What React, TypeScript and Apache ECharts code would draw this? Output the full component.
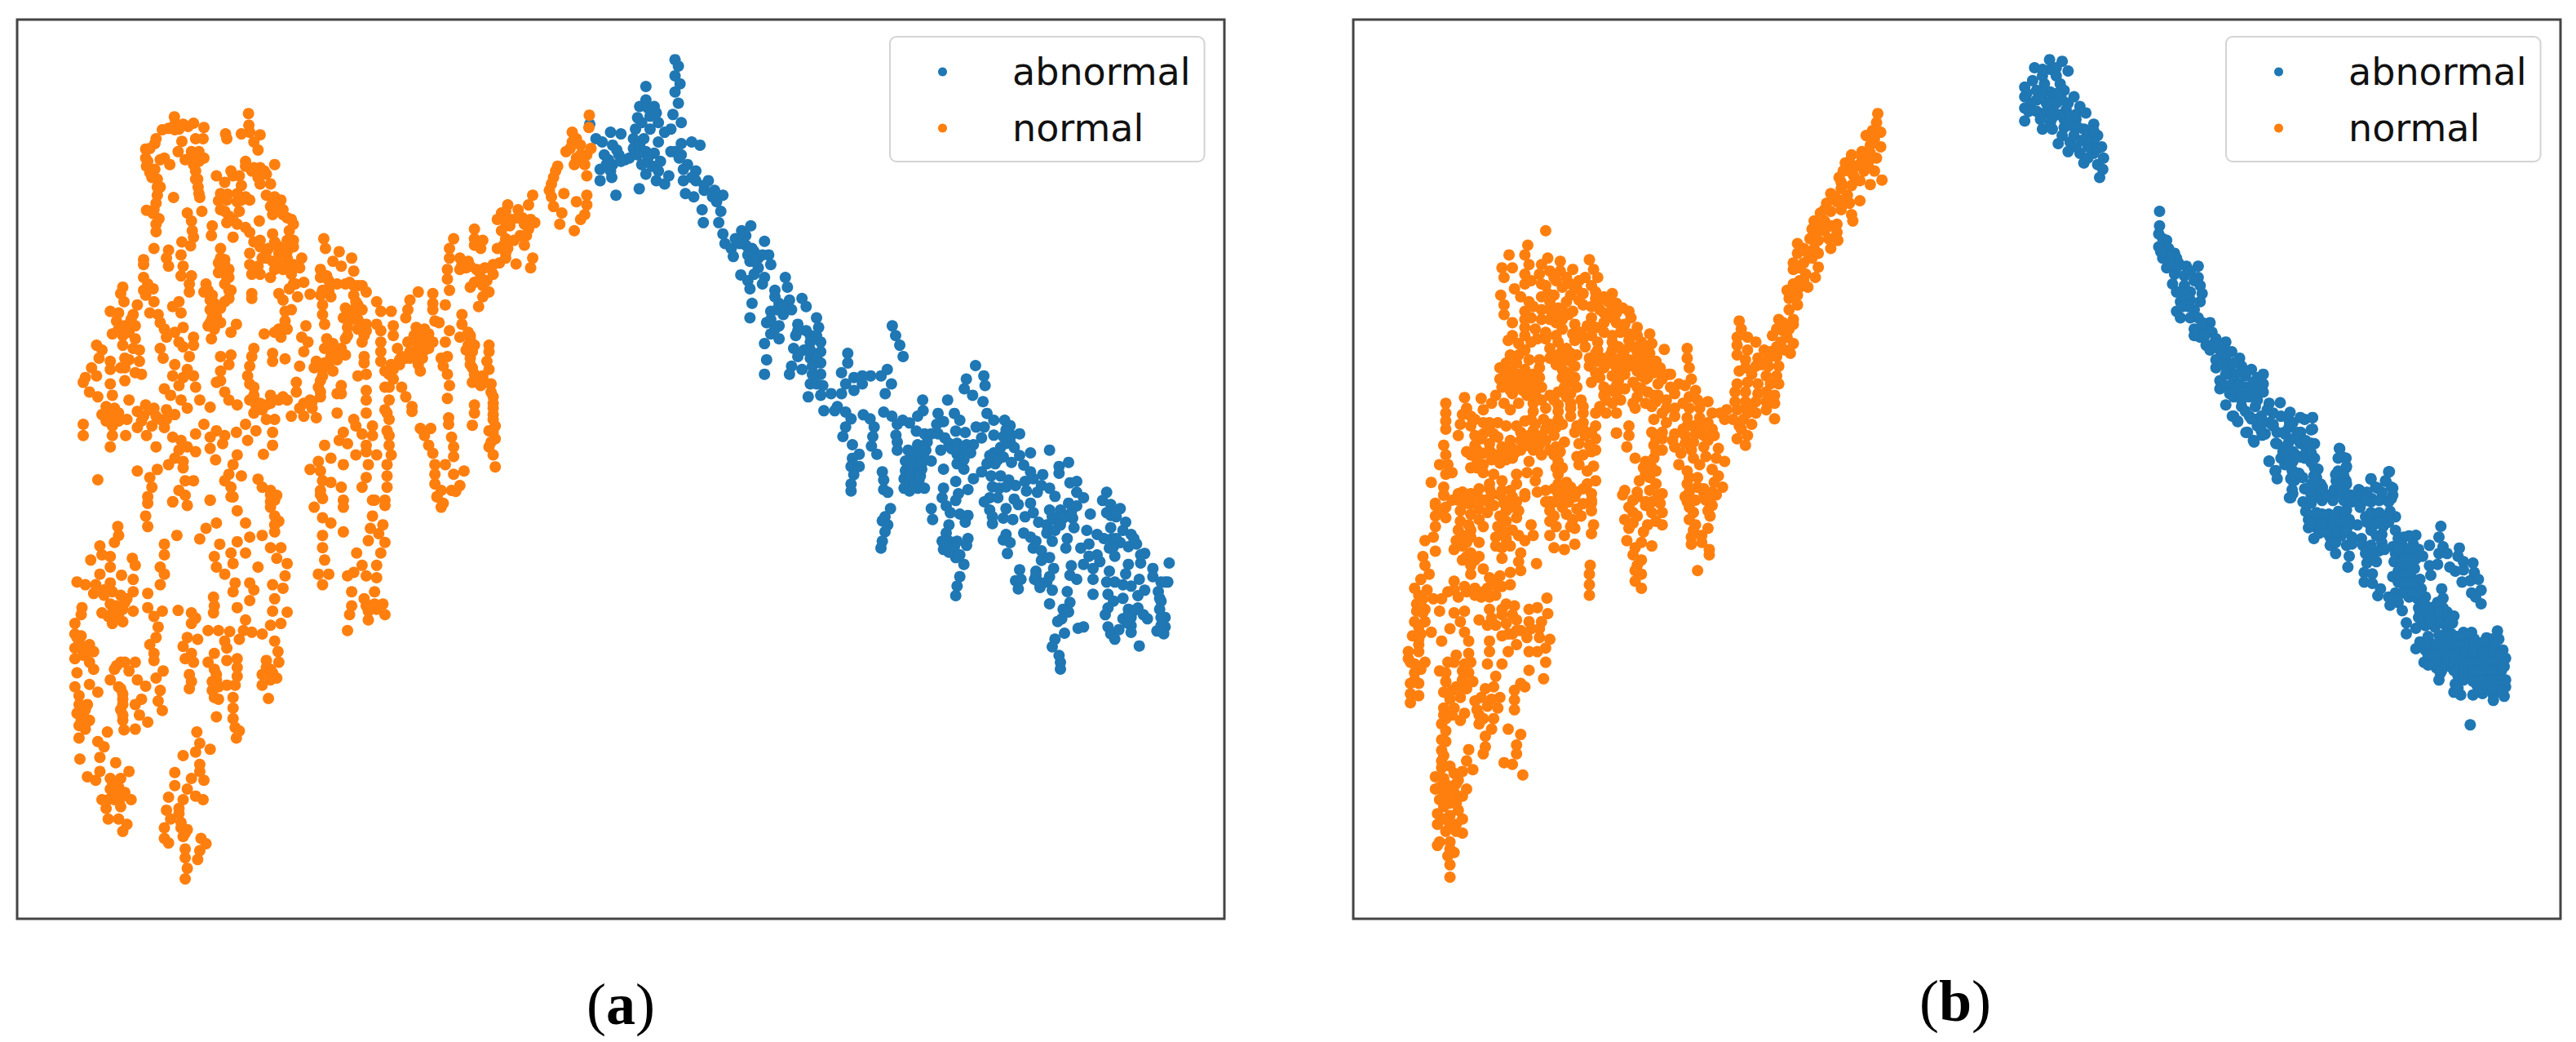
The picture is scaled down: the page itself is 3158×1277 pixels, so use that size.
import React, { useEffect, useRef } from "react";
import * as echarts from "echarts";

const normalA_upper = [419,362,390,402,405,398,420,402,420,385,440,385,465,382,490,395,452,392,430,400,375,430,372,445,350,462,350,490,352,515,360,535,372,525,378,555,385,580,378,605,375,630,352,652,368,662,382,678,375,695,375,718,395,490,385,495,408,510,437,438,470,430,488,430,428,470,478,470,460,490,445,495,490,490,465,510,470,530,475,555,476,580,480,612,417,612,485,655,597,352,598,388,580,415,600,410,625,418,610,440,620,465,542,415,545,430,660,510,590,500,605,530,625,520,640,540,620,550,555,530,520,545,540,565,575,545,580,575,570,600,600,620,650,570,625,570,547,602,525,622,580,620,530,650,550,670,575,655,545,690,570,695,590,705,600,720,560,735,640,605,660,610,675,620,650,640,655,665,680,650,690,675,705,695,695,715,623,685,510,700,508,730,450,660,460,685,462,715,465,735,610,750,625,765,655,725,660,750,690,745,705,745,640,780,670,785,600,785,690,780,725,800,720,830,690,800,655,810,630,800,600,820,620,825,605,850,650,860,680,835,700,850,705,880,370,770,345,805,345,820,405,775,400,800,405,825,437,750,458,762,435,790,530,770,440,825,460,855,435,855,455,880,455,905,525,815,540,820,545,840,530,830,550,860,540,880,555,900,550,925,
295,890,290,910,298,935,345,860,355,880,368,895,350,915,370,935,330,945,320,975,360,970,380,975,385,1000,395,1020,265,965,285,970,280,995,300,1010,270,1035,295,1040,295,1070,325,1010,325,1050,335,1085,335,1120,310,1115,300,1140,325,1155,340,1160,430,935,415,950,435,970,440,1015,420,1030,400,1045,430,1060,440,1075,465,1045,465,1070,232,1070,245,1085,238,1110,265,1120,220,1140,232,1165,205,1170,200,1185,215,1215,235,1230,265,1145,290,1140,385,1080,392,1110,420,1130,415,1165,455,1105,450,1145,440,1170,465,1165,430,1195,265,1190,300,1180,270,1225,310,1240,255,1260,275,1265,245,1285,265,1300,285,1305,305,1300,270,1320,330,1275,350,1255,345,1290,370,1265,400,1270,385,1300,365,1320,395,1325,330,1325,352,1350,200,1315,200,1350,270,1350,302,1350,265,1385,375,1385,420,1285,395,1205,410,1225,435,1240,450,1265,470,1200,480,1240,505,1262,490,1315,470,1345,415,1355,435,1365,505,1355,520,1335,540,1350,568,1340,535,1375,595,1365,505,1390,450,1385,430,1395,470,1400,420,1420,405,1440,440,1430,518,1425,570,1410,560,1440,330,1460,378,1455,235,1487,360,1480,365,1510,440,1450,445,1490,465,1490,430,1520,445,1535,415,1555,355,1560,505,1550,550,1470,580,1475,540,1490,555,1510,560,1540,620,1485,630,1510,650,1520,665,1535,650,1555,
495,880,490,905,505,930,515,960,510,985,500,1010,515,1020,530,955,540,935,550,900,530,1000,568,1005,555,1030,508,1050,605,910,605,925,670,910,710,880,730,875,695,895,680,930,685,965,715,920,700,960,685,995,670,1020,690,1020,635,1035,660,1030,675,1045,735,1010,725,1045,740,1060,730,1090,720,1135,610,1080,605,1105,600,1135,595,1165,600,1190,610,1200,655,1095,655,1120,685,1112,555,1100,530,1105,550,1130,530,1150,520,1185,540,1215,550,1240,570,1255,530,1180,610,1225,615,1255,610,1280,630,1270,650,1225,650,1250,670,1240,690,1240,712,1185,712,1215,640,1300,660,1300,590,1315,615,1335,655,1340,655,1380,633,1408,700,1290,730,1250,745,1240,730,1290,760,1295,750,1265,
778,740,782,770,815,780,845,800,800,810,820,825,770,835,785,855,850,840,745,912,830,880,850,885,870,885,790,895,770,915,880,905,795,920,850,915,775,945,775,975,780,1005,830,955,850,960,870,960,905,935,915,965,825,985,860,990,880,1005,835,1015,860,1020,875,1040,870,1060,940,965,945,1010,905,1005,915,1025,915,1060,915,1090,945,1040,955,1080,785,1050,830,1050,820,1080,800,1090,780,1080,830,1100,810,1115,780,1125,760,1120,755,1140,775,1165,800,1150,765,1200,820,1195,810,1220,770,1230,750,1245,810,1280,875,1105,875,1125,860,1165,880,1160,880,1210,880,1240,880,1280,850,1300,855,1320,825,1340,815,1365,835,1375,870,1345,895,1320,895,1350,880,1380,855,1410,880,1400,905,1410,935,1380,940,1410,780,1380,795,1420,765,1430,745,1455,770,1460,775,1490,825,1440,885,1440,880,1480,870,1510,930,1440,930,1475,930,1510,795,1495,770,1520,775,1545,820,1510,825,1550,900,1550,925,1550,940,1130,925,1150,945,1175,960,1130,975,1110,985,1090,965,1105,925,1200,935,1240,925,1270,935,1300,930,1335,935,1350,965,1200,975,1230,990,1260,990,1275,
1005,905,985,930,980,960,975,985,1040,910,1040,940,1040,960,1045,995,1000,1015,1020,1020,995,1040,1030,1035,980,1060,1010,1060,1000,1090,1040,1060,1030,1080,985,1110,1015,1110,1010,1150,1055,1000,1080,1025,1070,1060,1110,975,1110,1005,1125,1030,1105,1045,1130,1050,1140,1070,1120,1085,1130,1110,1135,1140,1060,1110,1075,1105,1065,1135,1075,1160,1080,1195,1075,1235,1175,1070,1175,1090,1170,1120,1175,1145,1160,1165,1135,1185,1155,1195,1180,1215,1140,1255,1140,1280,1135,1318,1185,1250,1185,1285,1190,1320,1175,1335,1190,1360,1175,1385,1185,1410,1190,1447,1078,1295,1078,1315,1010,1328,1035,1328,1020,1350,1030,1380,1040,1405,1085,1355,1090,1385,1090,1415,1045,1440,1070,1440,1115,1460,1045,1470,1090,1470,1045,1500,1105,1505,1060,1520,1085,1520,1050,1540,1065,1560,
1090,740,1080,770,1080,800,1075,835,1075,865,1080,900,1070,945,1140,710,1140,740,1160,745,1140,760,1155,770,1105,800,1125,810,1105,835,1130,825,1145,835,1180,830,1200,815,1215,800,1240,818,1155,860,1185,850,1130,890,1160,885,1175,905,1160,920,1150,950,1220,635,1205,660,1245,650,1280,605,1270,635,1195,680,1215,690,1255,675,1285,690,1205,715,1215,740,1270,710,1250,730,1220,770,1280,800,1275,830,1260,760,1195,770,1340,515,1330,550,1320,590,1330,640,1350,660,1345,695,1355,600,1385,625,1410,605,1410,635,1380,715,1395,680,1405,665,1375,410,1385,430,1360,470,1385,490,1405,510,1420,460,1410,545,1415,395,1416,357,
360,460,355,500,365,550,378,580,370,650,460,470,478,500,470,555,478,600,590,515,610,520,635,530,560,545,530,600,545,620,570,625,590,610,540,655,560,680,655,620,670,640,680,665,700,680,625,745,645,770,665,760,685,765,705,765,640,800,665,810,690,820,705,820,625,850,660,835,530,800,540,805,550,835,525,845,545,860,500,900,510,915,515,940,505,960,520,980,505,1000,770,860,790,870,810,880,840,875,860,885,775,900,790,905,855,935,860,945,870,1005,835,965,845,990,835,1040,870,1020,880,1025,800,1065,815,1095,795,1105,790,1135,775,1145,770,1180,770,1215,820,1220,915,1120,935,1160,945,1145,960,1115,935,1200,930,1280,1010,1040,1020,1060,1020,1085,1000,1110,1005,1130,1000,1060,1130,1040,1125,1070,1135,1090,1130,1130,1140,1160,1150,1180,1165,1185,1180,1190,1185,1230,1185,1265,1185,1300,1185,1340,1180,1370,1215,655,1230,680,1245,675,1225,700,1260,695,1275,680,1265,730,1235,745,1210,760,1215,785,1185,820,1165,830,1120,830,1110,820,1150,840,1170,870,1140,875,1335,530,1325,570,1325,610,1375,440,1370,460,1395,480,1380,510,1395,450,1410,480,265,1290,285,1280,255,1305,275,1290,340,1305,360,1270,375,1290,400,1300,300,1110,320,1080,285,1020,310,1030,345,900,315,990,290,1010,600,1240,625,1250,640,1255,680,1230,720,1265];

const normalA_lower = [355,20,350,75,355,105,415,35,450,45,505,30,555,20,570,60,590,95,520,95,495,110,480,140,425,130,650,15,650,50,670,90,660,120,770,15,755,50,775,80,795,95,825,50,825,120,895,30,925,45,895,75,920,100,890,110,885,145,925,150,283,105,285,130,275,150,240,160,245,185,218,200,265,190,265,220,318,195,325,215,240,240,292,243,320,255,185,262,205,270,230,270,265,265,225,295,250,300,290,300,320,290,355,295,265,325,300,320,245,350,270,350,295,340,320,345,270,380,295,375,395,155,395,185,385,220,395,240,385,270,355,335,370,360,380,390,375,420,390,345,428,343,360,440,370,465,370,485,197,335,195,355,180,380,180,410,190,430,180,450,215,440,200,470,180,480,225,460,215,490,225,510,185,520,180,560,190,585,215,553,235,575,300,490,325,490,275,510,265,540,310,515,330,540,290,565,295,595,290,625,295,655,350,558,340,595,325,610,335,640,325,680,355,660,298,682,392,515,375,535,385,570,380,600,390,627,190,610,210,610,185,635,200,640,215,655,190,670,205,680,190,705,258,688,235,715,250,730,240,760,192,765,278,775,240,800,210,815,310,800,230,825,265,820,290,820,285,845,265,850,300,860,245,880,275,880,315,880,290,900,255,905,260,935,285,935,305,950,295,970,473,688,480,720,505,737,470,745,440,755,480,780,480,800,420,803,460,820,490,825,420,840,450,850,405,873,440,880,470,870,488,880,400,910,430,905,410,935,435,945,395,960,450,965,440,985,395,990,405,1003,483,990,495,1005,445,1020,480,1025,445,1045,475,1050,450,1075,445,1105,460,350,460,380,470,365,450,420,475,425,440,445,460,465,445,480,465,490,455,525,460,545,455,565,513,305,515,330,513,350,500,400,525,400,552,403,540,430,545,450,515,465,500,490,545,485,520,525,510,545,545,555,510,570,525,595,565,555,570,480,570,505,570,530,560,590,560,620,520,645,560,650,565,675,575,685,568,705,528,155,515,190,520,220,540,240,570,148,555,180,600,135,590,180,560,210,565,265,560,290,570,335,590,370,585,400,575,425,605,405,630,410,620,220,600,265,610,285,600,315,630,130,650,165,675,165,665,195,690,210,685,245,680,280,655,270,660,310,655,345,690,348,650,385,675,380,660,430,668,460,670,490,640,485,650,510,630,525,665,535,630,555,645,593,775,130,775,165,780,200,765,240,790,240,775,270,857,180,870,215,850,235,835,245,880,245,845,290,845,330,840,355,835,400,910,125,915,180,905,215,905,250,900,290,875,310,900,325,920,325,885,345,885,370,925,355,1050,20,1060,50,1095,5,
660,75,660,100,660,30,250,285,270,290,305,310,280,330,260,360,285,360,185,420,195,415,195,450,210,460,290,490,280,500,285,560,295,580,295,610,295,640,195,625,205,625,195,655,205,665,270,830,280,830,275,865,260,880,290,875,430,920,435,960,445,975,515,510,520,540,525,560,515,590,640,505,655,520,650,540,890,330,905,340,880,330];

const abnormalA_upper = [45,385,60,430,75,440,95,410,120,415,100,450,80,480,115,480,100,510,130,495,70,525,95,530,70,560,98,550,108,605,164,585,250,185,258,205,250,235,262,260,250,285,258,320,245,355,265,380,240,400,180,268,180,310,165,330,200,330,160,365,190,360,210,380,155,400,225,410,175,430,210,440,150,460,180,470,200,475,240,470,265,445,290,440,310,450,140,490,170,510,195,515,180,540,205,560,225,570,235,545,210,530,265,480,280,510,300,530,270,560,300,560,330,560,275,600,295,610,320,590,345,590,365,605,350,625,360,655,315,650,318,690,355,690,365,725,370,755,432,700,410,715,395,740,420,760,385,770,390,795,465,748,440,780,475,790,450,800,430,810,480,820,450,830,408,852,425,870,465,860,430,895,435,940,515,860,520,890,490,900,460,880,500,940,525,930,555,925,565,950,480,965,510,975,430,985,470,1000,500,1010,545,1005,590,985,595,1015,565,1025,480,1035,465,1065,500,1050,540,1040,600,1060,575,1060,535,1080,560,1085,600,1090,545,1105,575,1110,600,1125,470,1115,465,1160,530,1135,555,1145,600,1160,525,1160,575,1190,605,1195,600,1225,570,1230,772,1010,780,1040,790,1070,798,1105,665,1095,665,1125,650,1155,680,1170,660,1190,625,1220,720,1165,700,1165,760,1145,745,1165,770,1190,755,1220,640,1260,950,1175,945,1205,965,1225,972,1133,992,1165,995,1195,990,1245,845,1240,905,1240,
110,465,90,495,120,500,85,510,150,430,165,450,190,400,170,380,185,335,195,345,205,350,160,480,185,490,215,500,250,470,260,490,270,525,290,550,320,575,340,610,350,605,420,730,405,755,435,770,425,790,460,790,440,810,440,850,490,920,495,960,510,950,530,960,480,990,490,1020,545,1025,575,1040,590,1040,575,1085,590,1110,580,1135,580,1160,590,1190,700,1190,680,1210,650,1220];

const abnormalA_lower = [30,10,70,10,110,15,130,40,175,25,200,40,215,70,110,70,100,105,135,135,210,105,205,140,225,170,160,170,135,185,130,215,160,215,140,245,130,280,130,305,245,235,250,265,250,300,265,310,250,15,280,30,300,60,320,45,295,100,300,125,345,55,370,85,400,95,425,95,375,30,395,10,300,155,340,155,375,135,410,125,405,155,330,195,360,190,400,185,425,195,330,230,360,225,390,225,325,260,355,260,380,265,325,295,345,305,375,295,400,295,450,20,470,50,445,60,450,95,475,110,460,155,510,20,530,45,515,85,550,90,490,130,520,130,555,135,580,135,520,170,550,170,570,165,520,205,545,225,470,225,580,260,590,70,620,70,610,110,655,100,630,20,655,45,695,45,715,65,750,95,690,105,715,125,680,145,655,165,730,145,750,175,630,205,610,235,660,205,690,180,720,200,645,250,680,250,710,265,735,285,790,165,860,155,835,245,765,210,790,235,770,270,800,260,775,305,830,285,860,295,880,325,815,310,650,290,675,295,640,330,620,345,640,375,670,330,700,290,730,335,745,355,700,370,650,400,690,405,725,410,650,425,790,350,770,400,800,385,820,420,860,375,900,375,930,350,960,360,985,330,960,310,935,275,960,270,895,215,930,200,895,240,880,410,910,405,945,405,950,440,850,430,1010,390,515,270,515,340,525,315,560,300,470,295,465,330,480,360,425,370,430,410,495,385,530,390,560,395,550,420,275,370,255,400,245,415,265,430,255,455,245,490,240,515,490,430,480,460,465,490,490,490,520,490,560,480,470,520,500,525,555,505,515,550,545,575,530,620,520,655,515,690,700,465,690,485,715,495,705,535,765,460,790,475,810,490,800,515,830,525,870,490,850,460,880,450,925,480,920,515,997,450,750,595,735,635,755,630,745,665,860,550,830,560,875,590,810,600,860,620,805,630,825,660,850,640,870,670,860,720,1070,310,1055,340,1085,355,1120,370,1070,385,1105,400,1140,420,1085,440,1130,450,1035,465,1060,480,1090,480,1160,465,1120,495,1150,510,1080,515,1100,545,1180,500,1210,535,1195,570,1150,575,1240,590,1300,570,975,515,1005,500,1035,540,1005,545,1045,565,985,575,940,580,935,615,1020,590,960,630,1020,630,925,675,1020,685,1080,600,1070,640,1100,640,1140,610,1190,630,1075,685,1130,650,1160,655,1210,670,1240,620,1295,640,1270,640,1260,675,1270,710,1185,690,1095,710,1075,735,1065,760,1130,700,1150,740,1185,735,1130,775,1160,770,1220,775,1265,740,1285,770,1285,805,1255,820,1280,830,1160,800,1160,825,1075,805,1085,830,1115,815,1100,850,1190,875,935,715,910,740,930,750,905,775,890,785,915,828,965,810,985,805,880,850,870,878,895,910,900,935,900,960,
345,215,345,245,345,280,360,290,385,250,390,205,370,165,350,165,530,190,545,190,500,150,520,150,540,150,640,175,670,190,700,130,720,100,700,80,500,505,490,530,475,500,510,510,530,540,820,640,810,615,1150,760,1145,790,1170,745,1205,760,1270,800,1270,770,1265,700,1285,640,1090,385,1085,395,1100,380,1105,480,1095,510,1170,480,1195,540,920,395,940,385,870,400,900,430];

const normalB_upper = [1278,352,1275,380,1265,405,1285,410,1250,420,1270,430,1285,455,1260,450,1215,480,1240,490,1200,505,1225,515,1255,505,1275,490,1195,530,1220,545,1245,530,1270,530,1185,550,1288,558,1260,572,1215,575,1190,585,1165,600,1205,605,1235,622,1180,625,1155,630,1210,630,1140,660,1165,655,1190,650,1215,665,1218,685,1125,685,1150,685,1180,695,1120,710,1150,715,1180,720,1135,745,1165,770,1115,740,1182,745,1085,755,1085,785,1110,785,1135,785,1075,815,1100,815,1135,828,1075,835,1105,850,1128,860,1075,880,1060,900,1090,890,1110,890,1065,925,1085,915,1085,945,1065,960,1040,990,1075,990,1065,1020,1035,1020,1025,1040,1060,1045,1075,1065,1035,1075,1068,1095,945,995,950,1020,940,1045,965,1045,985,1060,1005,1085,940,1070,965,1085,940,1100,1035,1105,990,1110,960,1115,1015,1110,1040,1135,1000,1130,945,1150,975,1160,1010,1165,1035,1165,1040,1190,940,1190,965,1185,990,1190,935,1215,960,1215,990,1220,1030,1225,1030,1250,1030,1298,935,1245,960,1245,985,1245,915,1270,940,1270,965,1280,985,1280,930,1300,955,1300,975,1315,950,1330,965,1350,940,1360,960,1380,820,1080,820,1110,825,1140,765,1083,830,1175,815,1195,840,1210,845,1240,825,1230,870,1245,850,1265,880,1280,825,1265,800,1190,780,1160,755,1155,790,1220,770,1240,750,1190,720,1175,740,1225,700,1200,700,1230,760,1280,790,1290,820,1295,850,1295,735,1260,695,1265,740,1300,770,1310,820,1320,870,1310,900,1280,910,1300,885,1350,735,1340,760,1340,790,1345,815,1350,840,1345,860,1350,815,1375,790,1385,830,1395,860,1385,895,1390,890,1420,910,1430,740,1380,680,1320,680,1350,650,1342,675,1385,695,1420,720,1430,740,1420,715,1450,745,1460,730,1480,800,1440,850,1440,820,1460,845,1480,895,1475,885,1495,905,1510,880,1525,860,1515,820,1500,825,1525,845,1510,875,1550,820,1555,705,1490,745,1500,670,1520,700,1525,730,1520,760,1530,690,1550,720,1555,755,1560,
480,715,437,760,392,790,430,790,485,800,515,810,585,805,375,830,400,830,440,820,470,820,430,850,465,850,490,840,515,840,545,835,595,835,380,860,505,870,540,880,575,860,605,860,480,885,520,890,555,895,590,885,405,895,372,915,380,945,380,975,485,910,600,905,640,910,490,935,530,935,510,955,440,935,430,965,470,960,500,970,570,945,545,965,605,940,630,935,650,940,590,985,680,965,620,970,650,970,430,990,400,1000,490,990,520,990,620,1000,650,1000,685,985,550,1005,580,1010,520,1020,455,1020,545,1035,590,1040,620,1030,660,1030,700,1015,730,1035,400,1040,430,1040,460,1050,390,1055,510,1060,550,1055,640,1060,680,1055,710,1060,735,1065,490,1080,520,1085,575,1075,605,1085,640,1085,670,1085,700,1090,730,1095,395,1100,430,1085,410,1125,440,1115,490,1110,525,1115,555,1100,585,1110,615,1110,650,1115,680,1115,715,1115,745,1120,370,1140,400,1150,430,1145,465,1140,520,1145,550,1135,585,1135,620,1140,650,1140,680,1135,720,1145,755,1140,370,1175,395,1175,430,1175,465,1170,520,1170,550,1170,610,1170,640,1165,670,1160,710,1165,740,1155,775,1160,375,1200,410,1195,440,1200,470,1200,525,1200,555,1200,620,1200,650,1195,360,1225,400,1220,435,1225,460,1235,490,1225,530,1230,565,1240,620,1225,650,1220,290,1265,325,1235,240,1250,285,1232,350,1250,380,1250,415,1250,450,1250,510,1255,640,1250,610,1260,240,1280,240,1305,240,1330,280,1285,300,1290,330,1270,395,1270,450,1275,480,1265,510,1275,540,1265,570,1280,600,1280,625,1280,650,1280,275,1315,300,1320,330,1310,365,1310,385,1320,475,1300,445,1300,510,1300,540,1290,570,1310,600,1320,650,1342,270,1350,330,1345,355,1345,420,1340,450,1335,480,1330,505,1325,550,1340,575,1350,600,1360,235,1380,310,1380,345,1375,375,1385,400,1390,430,1365,455,1365,480,1365,560,1375,585,1380,600,1395,505,1385,240,1410,300,1410,330,1405,360,1410,390,1410,420,1395,450,1395,500,1410,570,1410,555,1415,225,1440,245,1440,300,1450,330,1440,370,1435,400,1420,440,1430,510,1430,560,1440,595,1445,580,1460,240,1470,255,1465,330,1465,355,1470,205,1495,460,1465,510,1470,530,1495,455,1490,235,1510,345,1500,375,1490,410,1470,435,1465,280,1525,320,1515,375,1520,410,1500,235,1535,270,1550,320,1545,350,1530,400,1540,430,1530,480,1520,510,1500,540,1510,580,1500,600,1490,460,1525,510,1530,540,1540,590,1530,215,1560,290,1560,345,1560,380,1560,490,1555,520,1560,590,1560,
1240,470,1260,475,1210,500,1235,510,1210,530,1235,560,1190,565,1175,610,1195,620,1150,650,1130,700,1165,700,1130,720,1160,740,1100,770,1125,770,1090,830,1120,800,1090,870,1075,905,1100,870,1075,1005,1050,1000,1050,1025,1045,1060,1055,1085,1020,1090,1015,1135,985,1135,960,1140,1020,1190,1010,1215,1010,1245,1010,1270,960,1265,945,1320,975,1260,430,880,445,870,500,860,530,860,560,870,470,880,420,920,470,920,500,915,540,915,570,910,600,925,620,920,450,950,490,960,520,960,560,930,590,950,610,960,640,955,665,955,445,985,470,990,505,1000,535,975,640,985,670,1005,600,1015,430,1015,480,1030,505,1040,565,1030,640,1040,680,1035,700,1040,415,1065,445,1060,480,1050,530,1080,570,1050,605,1060,655,1075,690,1075,720,1085,510,1100,540,1095,600,1095,635,1100,665,1100,700,1105,385,1125,415,1100,465,1115,505,1130,540,1120,600,1120,635,1125,665,1125,700,1125,730,1130,385,1155,415,1160,450,1160,535,1155,600,1155,660,1150,700,1150,735,1140,760,1175,385,1190,420,1185,455,1185,540,1185,590,1185,655,1180,690,1185,725,1170,395,1210,425,1210,455,1215,510,1215,540,1220,635,1210,670,1205,710,1205,470,1240,500,1240,540,1250,570,1260,625,1240,660,1240,690,1250,720,1250,750,1225,780,1200,810,1250,790,1265,770,1265,745,1245,725,1215,310,1300,345,1330,310,1350,345,1310,410,1320,430,1305,455,1315,490,1315,520,1315,555,1320,590,1340,290,1400,325,1360,365,1355,395,1365,420,1365,440,1350,470,1350,500,1350,525,1370,570,1330,315,1395,345,1395,375,1405,405,1405,435,1380,465,1380,490,1395,515,1400,590,1400,315,1425,350,1425,385,1425,470,1410,520,1450,505,1450,315,1450,760,1360,785,1365,810,1330,835,1320,855,1325,880,1330,835,1370,870,1365,745,1360,760,1395,745,1400,805,1405,835,1420,865,1415,880,1455,720,1470,735,1450,825,1480,270,1530,300,1530,345,1515,395,1520,500,1515,520,1520,555,1525,570,1515,285,1545];

const normalB_lower = [235,15,280,30,310,15,350,15,380,30,430,20,480,35,515,15,550,20,590,30,665,15,700,20,750,15,815,20,860,10,890,15,215,45,240,50,275,60,320,55,355,45,400,50,490,60,520,50,555,55,590,60,680,50,720,45,760,65,825,50,880,45,215,75,240,80,275,90,320,85,370,75,410,80,490,90,545,85,595,100,670,85,700,75,745,90,825,85,875,75,215,105,270,115,300,115,365,105,400,115,445,100,490,130,525,130,550,110,590,125,680,110,715,120,760,100,835,115,870,110,190,145,210,135,265,145,290,150,360,135,385,140,430,145,450,130,500,165,525,170,550,155,675,145,710,150,735,160,830,155,855,150,873,170,873,185,185,190,215,175,260,170,300,180,320,190,375,165,375,195,420,180,415,205,458,210,690,185,710,200,845,230,190,215,200,240,280,200,300,215,330,225,695,230,710,240,695,260,710,280,587,215,585,240,585,270,585,300,180,255,165,280,195,285,210,310,260,260,245,290,230,310,285,275,310,280,270,305,325,305,300,240,345,250,370,245,395,270,420,230,395,235,375,275,170,325,170,345,190,340,225,345,260,350,285,345,345,305,345,340,320,370,350,365,385,325,405,330,440,340,460,335,483,308,485,352,165,375,190,375,205,405,275,375,250,395,285,405,295,430,230,430,360,385,385,380,410,370,440,375,470,375,160,415,180,410,175,440,345,430,375,415,400,410,410,440,435,420,465,420,490,425,390,460,440,460,460,460,480,450,150,460,175,460,155,490,190,490,265,470,295,465,345,460,245,490,300,490,340,495,375,495,480,490,165,520,180,510,225,515,295,520,240,545,280,540,360,530,440,513,475,537,155,550,175,550,155,580,175,585,155,605,265,560,235,575,290,565,335,565,355,560,420,550,405,570,430,560,250,595,275,590,310,600,350,595,370,590,405,597,405,625,235,620,260,620,285,635,315,625,365,620,240,650,275,655,330,650,355,650,320,665,240,685,350,680,230,710,335,700,390,680,420,695,230,740,335,730,410,725,295,738,330,750,410,750,230,770,290,770,380,775,400,780,230,790,305,795,280,800,425,810,260,805,215,815,235,820,215,850,270,825,290,850,235,860,260,860,225,880,280,870,250,890,270,910,220,920,250,925,280,935,220,950,250,950,265,970,280,975,225,1000,250,1000,220,1010,260,1030,245,1040,250,1065,250,1100,
255,30,300,40,335,30,370,15,410,35,500,35,535,35,570,40,690,30,735,35,840,30,865,30,230,60,300,70,340,65,385,60,415,60,500,75,530,70,565,75,690,65,735,65,835,65,870,60,295,100,330,105,385,90,505,105,540,105,690,95,725,100,840,100,380,120,415,130,830,135,855,130,280,130,300,135,320,150,360,160,395,160,280,160,290,190,310,200,695,165,700,215,340,280,360,270,260,285,290,290,310,300,330,290,360,300,375,340,400,355,340,385,375,355,420,400,445,395,465,395,390,410,410,400,185,310,175,300,185,350,175,390,175,425,150,480,165,495,165,540,260,490,285,495,240,520,280,515,305,545,255,570,280,565,325,590,340,615,320,640,255,640,235,640,230,665,240,715,235,755,250,785,225,845,245,840,265,835,240,875,235,900,265,890,235,935,265,950,240,970,250,1020];

const abnormalB_upper = [233,185,265,190,195,210,235,215,280,220,215,235,250,235,190,250,220,260,260,260,170,270,200,280,235,285,270,280,295,300,170,300,200,310,235,315,265,310,310,330,170,335,200,345,240,340,275,340,325,350,170,375,215,400,235,380,270,370,300,370,345,385,240,400,290,390,320,400,355,420,255,445,285,440,315,435,345,440,365,455,280,470,310,475,345,475,370,490,320,505,355,510,368,525,360,550,300,355,210,370,185,320,512,655,512,700,510,725,530,745,510,765,535,770,550,785,520,800,555,800,530,830,560,815,580,825,610,825,550,850,575,855,610,860,545,880,575,885,615,885,555,905,590,905,620,910,565,935,590,930,615,935,555,965,600,960,565,985,610,985,640,1000,600,1020,625,1020,600,1040,645,1030,655,1050,630,1070,680,1060,640,1085,665,1085,685,1090,655,1115,680,1115,715,1110,655,1140,690,1145,720,1135,745,1145,775,1160,665,1180,700,1175,730,1165,760,1170,665,1205,700,1205,735,1200,775,1190,680,1255,700,1230,740,1230,775,1215,700,1290,720,1260,755,1260,790,1250,818,1248,710,1305,740,1290,770,1290,800,1280,843,1278,735,1340,760,1320,790,1310,820,1290,750,1365,780,1345,810,1340,850,1310,880,1300,900,1295,790,1430,810,1375,840,1370,870,1340,900,1330,805,1460,820,1420,850,1400,880,1380,905,1375,850,1430,880,1420,905,1420,850,1460,905,1450,850,1490,875,1480,910,1480,850,1530,880,1515,925,1510,968,1390,985,1420,965,1420,985,1450,965,1460,985,1490,960,1490,1095,1462,1048,1485,1085,1490,1020,1520,1100,1510,1060,1510,960,1530,985,1530,900,1545,1015,1550,1050,1545,1100,1545,930,1540,
215,215,250,210,175,290,215,290,250,290,180,345,220,350,255,355,290,360,225,320,250,320,280,320,240,365,270,395,305,395,265,420,295,420,330,420,345,405,300,455,330,455,355,460,330,490,520,740,515,780,540,795,540,815,555,830,590,840,600,870,565,905,580,915,570,950,585,950,590,985,620,1000,615,1045,625,1045,650,1065,660,1070,670,1100,695,1090,670,1130,700,1125,730,1150,680,1160,715,1155,680,1195,715,1190,750,1185,690,1220,720,1215,755,1210,720,1240,760,1240,730,1275,785,1270,755,1300,770,1335,800,1320,840,1325,830,1345,860,1360,825,1400,860,1415,830,1440];

const abnormalB_lower = [620,330,670,345,700,350,740,340,780,340,820,340,880,330,920,345,960,335,1000,320,680,380,720,385,800,380,830,375,880,365,690,410,720,405,760,410,810,405,840,410,900,400,935,405,970,400,1010,400,690,440,720,440,755,440,800,440,840,430,870,430,930,430,965,435,1010,450,710,480,770,475,810,470,850,475,885,480,920,450,960,465,1040,475,1085,468,1060,470,770,505,830,505,850,500,890,505,920,505,960,495,1000,510,1035,505,1075,500,1135,505,1170,475,1177,435,1185,510,790,535,840,545,900,535,925,540,1010,535,1040,535,1080,530,1110,545,1170,535,1200,535,1245,515,835,585,905,570,940,565,1005,565,1035,565,1065,560,1135,580,1165,575,1210,585,1240,545,1260,565,1295,570,895,605,925,610,1020,600,1050,595,1080,590,1140,615,1230,600,1260,595,1300,605,895,640,925,645,1000,620,1040,625,1070,625,1100,630,1255,640,1285,635,1315,630,945,690,955,665,1010,680,1045,660,1075,660,1105,665,1180,665,1290,680,1325,670,990,725,985,695,1020,715,1060,695,1090,700,1120,695,1185,700,1325,720,1305,695,1035,745,1095,735,1125,730,1155,730,1185,735,1225,765,1050,790,1095,770,1125,765,1155,770,1190,775,1220,790,1050,830,1085,810,1120,800,1155,805,1200,810,1215,830,1260,825,1290,825,1385,820,1085,885,1100,860,1140,865,1180,855,1205,860,1250,855,1285,860,1345,845,1390,850,1120,890,1150,890,1185,890,1245,885,1280,885,1320,880,1355,880,1405,890,1115,935,1150,925,1185,925,1240,920,1275,920,1310,915,1345,915,1380,915,1415,920,1160,955,1210,950,1245,950,1280,950,1315,950,1350,950,1385,950,1410,950,1170,1000,1175,975,1240,985,1275,985,1310,985,1345,985,1380,985,1415,1000,1230,1015,1310,1020,1345,1020,1385,1020,1415,1025,1225,1045,1250,1055,1295,1055,1330,1050,1370,1055,1410,1060,1370,1075,1285,1165,
805,150,815,180,830,215,790,245,820,250,800,280,830,280,985,235,920,260,975,270,1000,295,945,295,875,300,905,310,960,310,725,225,700,200,710,250,735,280,630,230,640,265,630,300,625,330,690,300,720,310,760,320,545,195,570,230,575,260,620,190,660,180,700,130,660,130,610,140,570,130,520,100,460,90,490,125,410,30,430,50,480,40,520,50,560,60,620,50,660,35,705,35,700,80,650,90,
700,395,740,390,765,390,785,395,825,390,920,385,950,385,990,380,700,425,740,425,780,420,820,420,905,420,950,420,985,420,730,460,760,460,790,455,830,455,940,470,1020,480,790,495,950,525,970,520,1020,520,1060,520,1095,520,1045,550,1085,555,1040,610,1060,610,1020,640,1040,650,1060,640,1090,650,1000,700,1040,680,1075,680,1100,685,1165,715,1110,715,1100,750,1140,750,1170,750,1200,750,1110,790,1140,785,1175,790,1205,770,1205,790,1130,840,1170,835,1195,840,1235,840,1275,840,1300,850,1365,850,1120,870,1160,870,1195,875,1225,875,1265,870,1300,870,1335,860,1375,870,1130,910,1165,905,1200,905,1230,900,1260,900,1295,900,1335,900,1370,895,1400,905,1130,945,1170,940,1195,935,1225,935,1260,935,1295,935,1330,935,1365,935,1400,935,1180,965,1225,965,1260,965,1295,965,1330,965,1365,965,1400,965,1260,1000,1295,1005,1330,1000,1365,1000,1395,1000,1240,1030,1325,1035,1365,1035,1400,1040,600,90,640,110,680,120,600,165,640,170,680,165,700,165,625,260,655,240,700,280,740,300,700,320,735,320,785,300,815,305,845,320,865,320,905,340,950,340,985,345,850,345];

const seriesNames = ["abnormal", "normal"];
const seriesColors = ["#1f77b4", "#ff7f0e"];

type Crop = [number, number, number, number];
const convert = (pts: number[], [ox, oy, sx, sy]: Crop) => {
  const out: number[][] = [];
  for (let i = 0; i + 1 < pts.length; i += 2) out.push([ox + pts[i] / sx, oy + pts[i + 1] / sy]);
  return out;
};

const abnormalA = [...convert(abnormalA_upper, [700, 0, 1.96, 2.529]), ...convert(abnormalA_lower, [1000, 500, 3, 3])];
const normalA = [...convert(normalA_upper, [0, 0, 1.96, 2.529]), ...convert(normalA_lower, [0, 600, 1.96, 2.316])];
const abnormalB = [...convert(abnormalB_upper, [2400, 0, 2.069, 2.529]), ...convert(abnormalB_lower, [2600, 500, 3, 3])];
const normalB = [...convert(normalB_upper, [1650, 0, 1.96, 2.529]), ...convert(normalB_lower, [1650, 600, 1.96, 2.316])];

export default function App() {
  const ref = useRef<HTMLDivElement>(null);
  useEffect(() => {
    document.body.style.margin = "0";
    const chart = echarts.init(ref.current!, null, { renderer: "svg" });
    const axisOff = { show: false, scale: true };
    const legendBase = {
      orient: "vertical" as const,
      top: 45,
      data: seriesNames,
      icon: "circle",
      itemWidth: 11,
      itemHeight: 11,
      itemGap: 7,
      selectedMode: false,
      backgroundColor: "#fff",
      borderColor: "#d4d4d4",
      borderWidth: 2,
      borderRadius: 8,
      padding: [12, 17, 10, 59],
      textStyle: { fontFamily: "DejaVu Sans", fontSize: 46, color: "#111", padding: [0, 0, 36, 75], lineHeight: 26 },
    };
    const scatter = (name: string, data: number[][], i: number, color: string) => ({
      type: "scatter" as const,
      name,
      data,
      xAxisIndex: i,
      yAxisIndex: i,
      symbol: "circle",
      symbolSize: 14,
      itemStyle: { color, opacity: 1 },
      silent: true,
    });
    const rich = {
      r: { fontFamily: "Liberation Serif", fontSize: 72, fontWeight: "normal" as const, color: "#000" },
      b: { fontFamily: "Liberation Serif", fontSize: 72, fontWeight: "bold" as const, color: "#000" },
    };
    chart.setOption({
      animation: false,
      backgroundColor: "#fff",
      grid: [
        { left: 21, top: 24, width: 1480, height: 1102, show: true, borderColor: "#444", borderWidth: 3, backgroundColor: "#fff" },
        { left: 1659, top: 24, width: 1480, height: 1102, show: true, borderColor: "#444", borderWidth: 3, backgroundColor: "#fff" },
      ],
      xAxis: [
        { ...axisOff, type: "value", gridIndex: 0, min: 21, max: 1501 },
        { ...axisOff, type: "value", gridIndex: 1, min: 1659, max: 3139 },
      ],
      yAxis: [
        { ...axisOff, type: "value", gridIndex: 0, min: 24, max: 1126, inverse: true },
        { ...axisOff, type: "value", gridIndex: 1, min: 24, max: 1126, inverse: true },
      ],
      legend: [
        { ...legendBase, left: 1091 },
        { ...legendBase, left: 2729 },
      ],
      title: [
        { text: "{r|(}{b|a}{r|)}", left: 756, top: 1190, textAlign: "center", textStyle: { fontWeight: "normal", rich } },
        { text: "{r|(}{b|b}{r|)}", left: 2392, top: 1186, textAlign: "center", textStyle: { fontWeight: "normal", rich } },
      ],
      series: [
        scatter(seriesNames[0], abnormalA, 0, seriesColors[0]),
        scatter(seriesNames[1], normalA, 0, seriesColors[1]),
        scatter(seriesNames[0], abnormalB, 1, seriesColors[0]),
        scatter(seriesNames[1], normalB, 1, seriesColors[1]),
      ],
    });
    return () => chart.dispose();
  }, []);
  return <div ref={ref} style={{ width: 3158, height: 1277 }} />;
}
